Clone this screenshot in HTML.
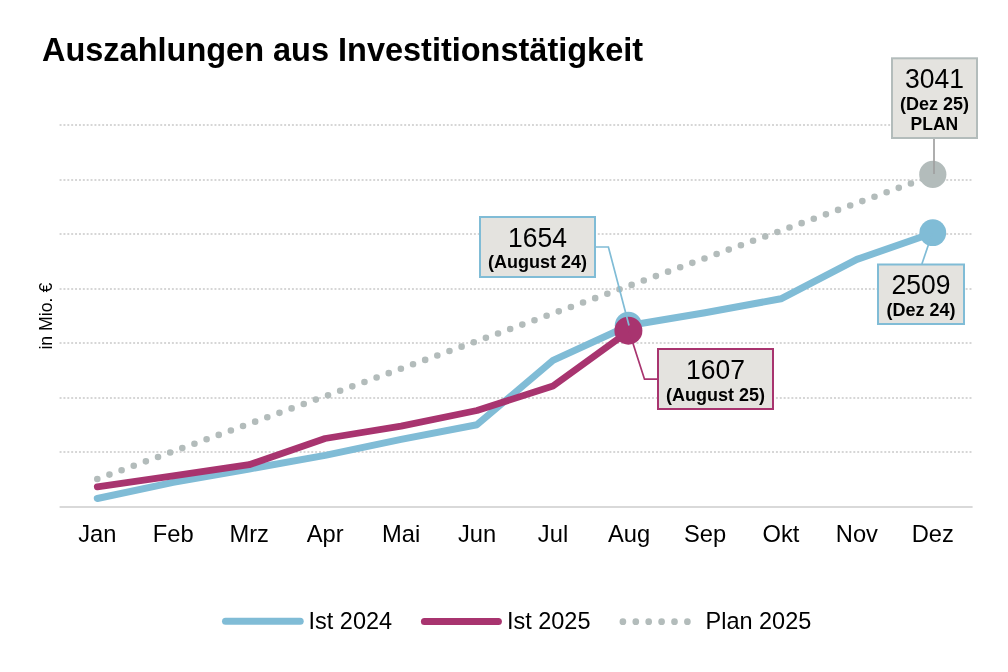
<!DOCTYPE html>
<html lang="de">
<head>
<meta charset="utf-8">
<title>Auszahlungen aus Investitionstätigkeit</title>
<style>
  html, body { margin: 0; padding: 0; background: #ffffff; }
  body { width: 1008px; height: 672px; overflow: hidden; }
  svg { display: block; will-change: transform; font-family: "Liberation Sans", Arial, sans-serif; }
</style>
</head>
<body>
<svg width="1008" height="672" viewBox="0 0 1008 672">
  <rect x="0" y="0" width="1008" height="672" fill="#ffffff"/>

  <!-- Title -->
  <text transform="translate(42,61) scale(1,1.04)" font-size="32.5" font-weight="bold" fill="#000">Auszahlungen aus Investitionstätigkeit</text>

  <!-- Y axis label -->
  <text transform="translate(51.5,349.6) rotate(-90) scale(1,1.04)" font-size="17.7" fill="#000">in Mio. €</text>

  <!-- Grid lines -->
  <g stroke="#d6d6d6" stroke-width="2" stroke-dasharray="1.936 1.936" fill="none">
    <line x1="59.6" y1="125" x2="972.6" y2="125"/>
    <line x1="59.6" y1="180" x2="972.6" y2="180"/>
    <line x1="59.6" y1="234" x2="972.6" y2="234"/>
    <line x1="59.6" y1="289" x2="972.6" y2="289"/>
    <line x1="59.6" y1="343" x2="972.6" y2="343"/>
    <line x1="59.6" y1="398" x2="972.6" y2="398"/>
    <line x1="59.6" y1="452" x2="972.6" y2="452"/>
  </g>
  <!-- Axis -->
  <line x1="59.6" y1="507" x2="972.6" y2="507" stroke="#cccccc" stroke-width="1.6"/>

  <!-- Month labels -->
  <g font-size="23.7" fill="#000" text-anchor="middle">
    <text transform="translate(97.3,542.3) scale(1,1.04)">Jan</text>
    <text transform="translate(173.2,542.3) scale(1,1.04)">Feb</text>
    <text transform="translate(249.2,542.3) scale(1,1.04)">Mrz</text>
    <text transform="translate(325.1,542.3) scale(1,1.04)">Apr</text>
    <text transform="translate(401.1,542.3) scale(1,1.04)">Mai</text>
    <text transform="translate(477,542.3) scale(1,1.04)">Jun</text>
    <text transform="translate(553,542.3) scale(1,1.04)">Jul</text>
    <text transform="translate(629,542.3) scale(1,1.04)">Aug</text>
    <text transform="translate(705,542.3) scale(1,1.04)">Sep</text>
    <text transform="translate(780.9,542.3) scale(1,1.04)">Okt</text>
    <text transform="translate(856.9,542.3) scale(1,1.04)">Nov</text>
    <text transform="translate(932.8,542.3) scale(1,1.04)">Dez</text>
  </g>

  <!-- Plan 2025 dotted line -->
  <line x1="97.3" y1="479" x2="932.8" y2="175.5" stroke="#b3bcbb" stroke-width="6.6" stroke-linecap="round" stroke-dasharray="0 12.92"/>

  <!-- Ist 2024 -->
  <polyline fill="none" stroke="#80bcd6" stroke-width="7" stroke-linecap="round" stroke-linejoin="round"
    points="97.3,498.5 173.2,482.3 249.2,469 325.1,455.4 401.1,439.3 477,424.7 553,360.4 629,325.5 705,312.8 780.9,298.8 856.9,259.4 932.8,233"/>
  <!-- Ist 2025 -->
  <polyline fill="none" stroke="#a8346f" stroke-width="6.8" stroke-linecap="round" stroke-linejoin="round"
    points="97.3,486.8 173.2,475.9 249.2,464.7 325.1,438.5 401.1,426.2 477,410.5 553,385.9 629,331"/>

  <!-- Points -->
  <circle cx="932.8" cy="174.4" r="13.6" fill="#b3bcbb"/>
  <circle cx="932.8" cy="232.7" r="13.4" fill="#80bcd6"/>
  <circle cx="628.4" cy="325.3" r="13.6" fill="#80bcd6"/>
  <circle cx="628.4" cy="330.7" r="14" fill="#a8346f"/>

  <!-- Connectors -->
  <g fill="none" stroke-width="1.7">
    <polyline stroke="#80bcd6" points="596,247 608.4,247 629,325.5"/>
    <polyline stroke="#a8346f" points="629,331 644.5,379.2 657.4,379.2"/>
    <line stroke="#a0a0a0" x1="934" y1="139" x2="934" y2="174"/>
    <line stroke="#80bcd6" x1="921.9" y1="264" x2="932.4" y2="233"/>
  </g>

  <!-- Label boxes -->
  <g stroke-width="2">
    <rect x="480" y="217" width="115" height="60" fill="#e4e3df" stroke="#80bcd6"/>
    <rect x="658" y="349" width="115" height="60" fill="#e4e3df" stroke="#a8346f"/>
    <rect x="892" y="58.3" width="85" height="79.7" fill="#e4e3df" stroke="#b3bcbb"/>
    <rect x="878" y="264.5" width="86" height="59.5" fill="#e4e3df" stroke="#80bcd6"/>
  </g>
  <g fill="#000" text-anchor="middle">
    <text transform="translate(537.5,246.7) scale(1,1.04)" font-size="26.5">1654</text>
    <text transform="translate(537.5,267.8) scale(1,1.04)" font-size="18" font-weight="bold">(August 24)</text>
    <text transform="translate(715.5,378.9) scale(1,1.04)" font-size="26.5">1607</text>
    <text transform="translate(715.5,400.5) scale(1,1.04)" font-size="18" font-weight="bold">(August 25)</text>
    <text transform="translate(934.4,88) scale(1,1.04)" font-size="26.5">3041</text>
    <text transform="translate(934.4,109.5) scale(1,1.04)" font-size="18" font-weight="bold">(Dez 25)</text>
    <text transform="translate(934.4,129.6) scale(1,1.04)" font-size="17.5" font-weight="bold">PLAN</text>
    <text transform="translate(921,294) scale(1,1.04)" font-size="26.5">2509</text>
    <text transform="translate(921,316) scale(1,1.04)" font-size="18" font-weight="bold">(Dez 24)</text>
  </g>

  <!-- Legend -->
  <line x1="225.5" y1="621.3" x2="300.2" y2="621.3" stroke="#80bcd6" stroke-width="7" stroke-linecap="round"/>
  <text transform="translate(308.5,628.8) scale(1,1.04)" font-size="23.5" fill="#000">Ist 2024</text>
  <line x1="424.4" y1="621.4" x2="498.4" y2="621.4" stroke="#a8346f" stroke-width="7" stroke-linecap="round"/>
  <text transform="translate(506.9,628.8) scale(1,1.04)" font-size="23.5" fill="#000">Ist 2025</text>
  <line x1="622.9" y1="621.7" x2="690" y2="621.7" stroke="#b3bcbb" stroke-width="6.7" stroke-linecap="round" stroke-dasharray="0 12.9"/>
  <text transform="translate(705.5,628.6) scale(1,1.04)" font-size="23.5" fill="#000">Plan 2025</text>
</svg>
</body>
</html>
